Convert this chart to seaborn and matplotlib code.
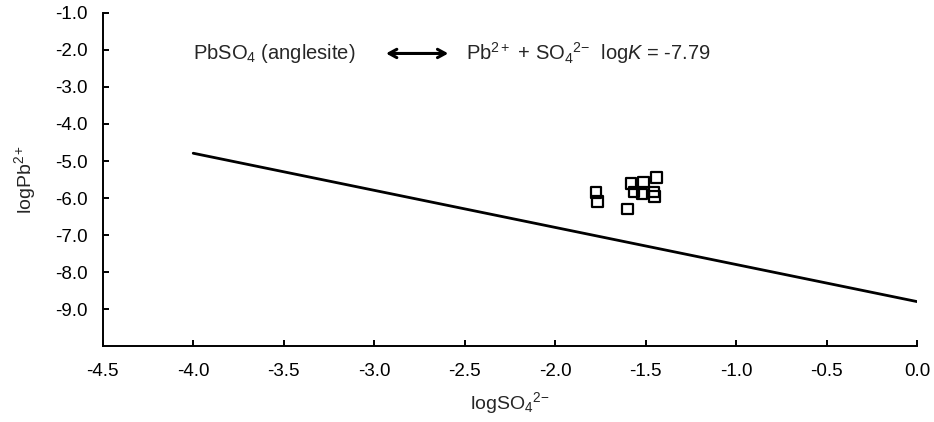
import matplotlib
matplotlib.use("Agg")
import matplotlib.pyplot as plt
import seaborn as sns
import pandas as pd

# Data
so4_obs = [-1.774, -1.767, -1.600, -1.581, -1.564, -1.513, -1.520, -1.439, -1.453, -1.452]
pb_obs = [-5.85, -6.09, -6.29, -5.60, -5.84, -5.57, -5.89, -5.45, -5.83, -5.96]
line_so4 = [-4.0, 0.0]
line_pb = [-4.79, -8.79]
x_ticks = [-4.5, -4.0, -3.5, -3.0, -2.5, -2.0, -1.5, -1.0, -0.5, 0.0]
y_ticks = [-1.0, -2.0, -3.0, -4.0, -5.0, -6.0, -7.0, -8.0, -9.0]

sns.set_style("ticks")
plt.rcParams["font.family"] = ["Liberation Sans", "DejaVu Sans"]
plt.rcParams["mathtext.fontset"] = "custom"
plt.rcParams["mathtext.rm"] = "Liberation Sans"
plt.rcParams["mathtext.it"] = "Liberation Sans:italic"
plt.rcParams["mathtext.bf"] = "Liberation Sans:bold"

fig = plt.figure(figsize=(9.34, 4.22), dpi=100)
ax = fig.add_axes([0.110, 0.179, 0.8718, 0.791])

df_line = pd.DataFrame({"x": line_so4, "y": line_pb})
df_obs = pd.DataFrame({"x": so4_obs, "y": pb_obs})

sns.lineplot(data=df_line, x="x", y="y", color="black", linewidth=2.0, ax=ax)
sns.scatterplot(data=df_obs, x="x", y="y", marker="s", s=58, facecolor="none",
                edgecolor="black", linewidth=1.6, ax=ax, zorder=3)

ax.set_xlim(-4.5, 0.0)
ax.set_ylim(-10.0, -1.0)
ax.set_xticks(x_ticks)
ax.set_xticklabels([f"{v:.1f}" for v in x_ticks])
ax.set_yticks(y_ticks)
ax.set_yticklabels([f"{v:.1f}" for v in y_ticks])

for s in ["top", "right"]:
    ax.spines[s].set_visible(False)
for s in ["left", "bottom"]:
    ax.spines[s].set_linewidth(1.4)
    ax.spines[s].set_color("black")

ax.tick_params(axis="both", direction="in", length=4, width=1.4, colors="black",
               labelsize=13.5)
ax.tick_params(axis="x", pad=12)
ax.tick_params(axis="y", pad=11)

ax.set_xlabel(r"logSO$_4$$^{2\mathrm{-}}$", fontsize=14, labelpad=7)
ax.set_ylabel(r"logPb$^{2+}$", fontsize=14, labelpad=12)

ax.text(-4.0, -2.1, r"PbSO$_4$ (anglesite)", fontsize=14.5, ha="left", va="center")
ax.annotate("", xy=(-2.575, -2.1), xytext=(-2.95, -2.1),
            arrowprops=dict(arrowstyle="<->,head_length=0.55,head_width=0.3",
                            lw=2.2, color="black"))
ax.text(-2.49, -2.1, r"Pb$^{2+}$ + SO$_4$$^{2\mathrm{-}}$  log$\it{K}$ = -7.79",
        fontsize=14.5, ha="left", va="center")

fig.savefig("out.png", dpi=100)
